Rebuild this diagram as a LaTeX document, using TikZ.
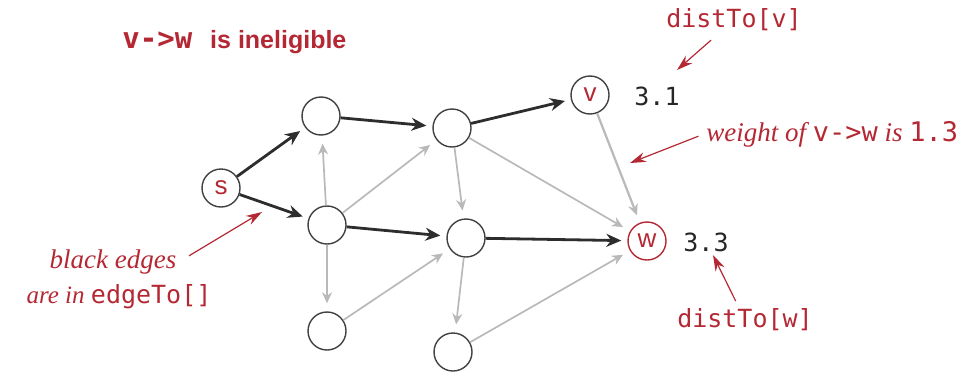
\documentclass[tikz,border=0pt]{standalone}
\usepackage{fontspec}
\setmainfont{Liberation Serif}
\setsansfont{Liberation Sans}
\setmonofont{DejaVu Sans Mono}
\usetikzlibrary{arrows.meta}

\definecolor{bookred}{RGB}{180,40,52}
\definecolor{edgegray}{RGB}{185,185,185}
\definecolor{treeblack}{RGB}{45,45,45}
\newcommand{\code}[1]{{\upshape\ttfamily #1}}

\tikzset{
  vertex/.style={circle, draw=black!75, line width=0.7pt, minimum size=19pt, inner sep=0pt,
    text=bookred, font=\sffamily\fontsize{13}{13}\selectfont},
  hotvertex/.style={vertex, draw=bookred},
  tree/.style={draw=treeblack, line width=1.4pt, -{Stealth[length=7.5pt,width=6.5pt]}, shorten >=3pt},
  nontree/.style={draw=edgegray, line width=0.85pt, -{Stealth[length=5.5pt,width=5pt]}, shorten >=4pt},
  note/.style={text=bookred, font=\itshape\fontsize{13.5}{15}\selectfont, inner sep=1pt},
  codenote/.style={text=bookred, font=\ttfamily\fontsize{12.5}{15}\selectfont, inner sep=1pt},
  dist/.style={text=black!85, font=\ttfamily\fontsize{12.5}{15}\selectfont, inner sep=1pt},
  pointer/.style={draw=bookred, line width=0.6pt, -{Stealth[length=8pt,width=5pt]}}
}

\begin{document}
\begin{tikzpicture}[x=0.5pt,y=-0.5pt]
  \useasboundingbox (0,0) rectangle (961,375);

  \node[text=bookred, font=\bfseries, anchor=west, inner sep=0pt] (title) at (122,42)
    {\fontsize{14.5}{15}\selectfont\ttfamily v->w\hspace{9pt}\fontsize{12.5}{15}\selectfont\sffamily is ineligible};

  \node[vertex] (s) at (221,188) {s};
  \node[vertex] (a) at (321,116) {};
  \node[vertex] (b) at (327,225) {};
  \node[vertex] (c) at (327,331) {};
  \node[vertex] (d) at (452,128) {};
  \node[vertex] (e) at (466,238) {};
  \node[vertex] (f) at (453,352) {};
  \node[vertex] (v) at (590,95) {v};
  \node[hotvertex] (w) at (647,241) {w};

  \draw[nontree] (b) -- (a);
  \draw[nontree] (b) -- (c);
  \draw[nontree] (b) -- (d);
  \draw[nontree] (c) -- (e);
  \draw[nontree] (d) -- (e);
  \draw[nontree] (e) -- (f);
  \draw[nontree] (d) -- (w);
  \draw[nontree, line width=1.1pt] (v) -- (w);
  \draw[nontree] (f) -- (w);

  \draw[tree] (s) -- (a);
  \draw[tree] (s) -- (b);
  \draw[tree] (a) -- (d);
  \draw[tree] (b) -- (e);
  \draw[tree] (d) -- (v);
  \draw[tree] (e) -- (w);

  \node[dist] (distv) at (657,96) {3.1};
  \node[dist] (distw) at (706,242) {3.3};

  \node[codenote] (distvlabel) at (734,20) {distTo[v]};
  \node[codenote] (distwlabel) at (745,320) {distTo[w]};
  \node[note, anchor=west] (weight) at (704,134) {weight of \code{v->w} is \code{1.3}};
  \node[note] (black1) at (113,262) {black edges};
  \node[note, font=\itshape\fontsize{12.5}{15}\selectfont] (black2) at (119,297) {are in \code{edgeTo[]}};

  \coordinate (vtip) at (677,70);
  \coordinate (weighttip) at (630,163);
  \coordinate (wtip) at (713,255);
  \coordinate (stip) at (262,212);

  \draw[pointer, shorten <=5pt] (distvlabel) -- (vtip);
  \draw[pointer, shorten <=3pt] (weight.west) -- (weighttip);
  \draw[pointer, shorten <=3pt] (distwlabel) -- (wtip);
  \draw[pointer, shorten <=6pt] (black1.east) -- (stip);
\end{tikzpicture}
\end{document}
